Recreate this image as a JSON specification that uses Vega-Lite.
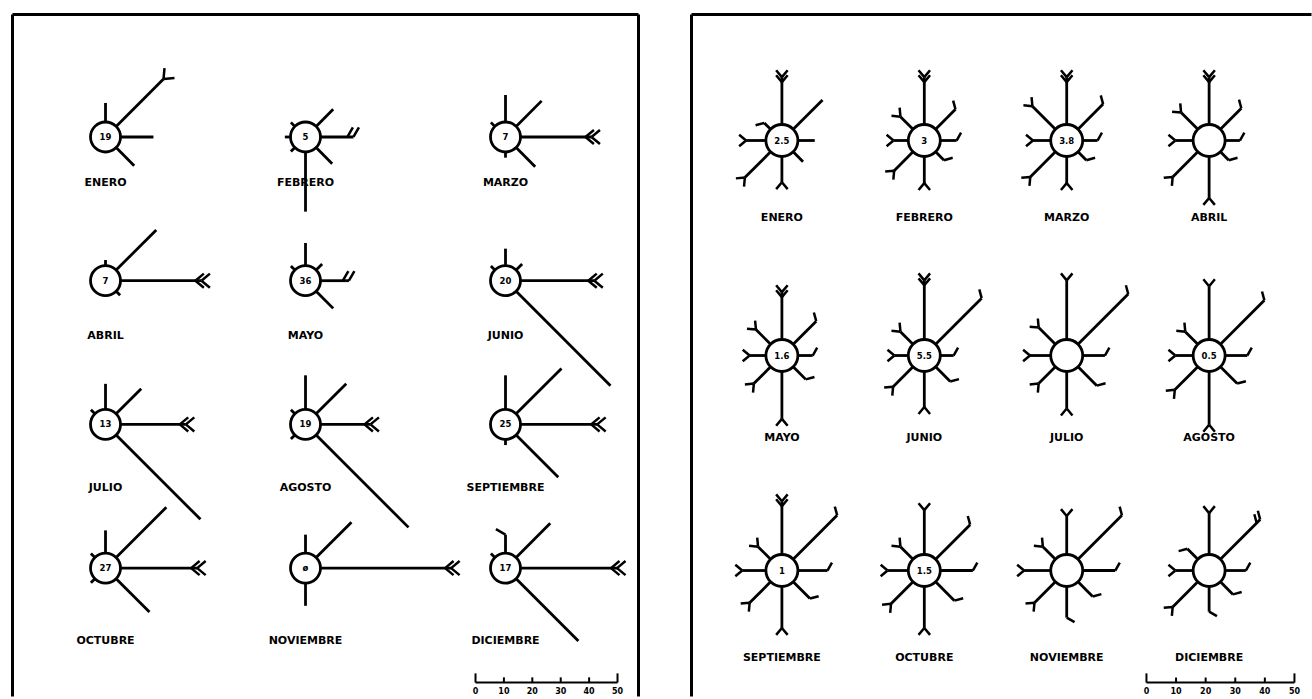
{
  "$schema": "https://vega.github.io/schema/vega-lite/v6.json",
  "padding": {"left": 10.5, "top": 12.5, "right": 0, "bottom": 0},
  "background": "white",
  "config": {"view": {"stroke": null}, "text": {"font": "DejaVu Sans", "fontWeight": "bold", "color": "black"}},
  "spacing": 49,
  "datasets": {
    "roses": [
      {"panel": "A", "m": 1, "month": "ENERO", "calm": "19"},
      {"panel": "A", "m": 2, "month": "FEBRERO", "calm": "5"},
      {"panel": "A", "m": 3, "month": "MARZO", "calm": "7"},
      {"panel": "A", "m": 4, "month": "ABRIL", "calm": "7"},
      {"panel": "A", "m": 5, "month": "MAYO", "calm": "36"},
      {"panel": "A", "m": 6, "month": "JUNIO", "calm": "20"},
      {"panel": "A", "m": 7, "month": "JULIO", "calm": "13"},
      {"panel": "A", "m": 8, "month": "AGOSTO", "calm": "19"},
      {"panel": "A", "m": 9, "month": "SEPTIEMBRE", "calm": "25"},
      {"panel": "A", "m": 10, "month": "OCTUBRE", "calm": "27"},
      {"panel": "A", "m": 11, "month": "NOVIEMBRE", "calm": "ø"},
      {"panel": "A", "m": 12, "month": "DICIEMBRE", "calm": "17"},
      {"panel": "B", "m": 1, "month": "ENERO", "calm": "2.5"},
      {"panel": "B", "m": 2, "month": "FEBRERO", "calm": "3"},
      {"panel": "B", "m": 3, "month": "MARZO", "calm": "3.8"},
      {"panel": "B", "m": 4, "month": "ABRIL", "calm": ""},
      {"panel": "B", "m": 5, "month": "MAYO", "calm": "1.6"},
      {"panel": "B", "m": 6, "month": "JUNIO", "calm": "5.5"},
      {"panel": "B", "m": 7, "month": "JULIO", "calm": ""},
      {"panel": "B", "m": 8, "month": "AGOSTO", "calm": "0.5"},
      {"panel": "B", "m": 9, "month": "SEPTIEMBRE", "calm": "1"},
      {"panel": "B", "m": 10, "month": "OCTUBRE", "calm": "1.5"},
      {"panel": "B", "m": 11, "month": "NOVIEMBRE", "calm": ""},
      {"panel": "B", "m": 12, "month": "DICIEMBRE", "calm": ""}
    ],
    "rays": [
      {"panel": "A", "m": 1, "dir": 0, "pct": 6.7, "barb": ""},
      {"panel": "A", "m": 1, "dir": 45, "pct": 23.6, "barb": "F"},
      {"panel": "A", "m": 1, "dir": 90, "pct": 11.6, "barb": ""},
      {"panel": "A", "m": 1, "dir": 135, "pct": 9, "barb": ""},
      {"panel": "A", "m": 2, "dir": 45, "pct": 8.5, "barb": ""},
      {"panel": "A", "m": 2, "dir": 90, "pct": 11.6, "barb": "LL"},
      {"panel": "A", "m": 2, "dir": 135, "pct": 8, "barb": ""},
      {"panel": "A", "m": 2, "dir": 180, "pct": 21, "barb": ""},
      {"panel": "A", "m": 2, "dir": 225, "pct": 2, "barb": ""},
      {"panel": "A", "m": 2, "dir": 270, "pct": 2, "barb": ""},
      {"panel": "A", "m": 2, "dir": 315, "pct": 2, "barb": ""},
      {"panel": "A", "m": 3, "dir": 0, "pct": 9.5, "barb": ""},
      {"panel": "A", "m": 3, "dir": 45, "pct": 12.7, "barb": ""},
      {"panel": "A", "m": 3, "dir": 90, "pct": 25, "barb": "FF"},
      {"panel": "A", "m": 3, "dir": 135, "pct": 9.5, "barb": ""},
      {"panel": "A", "m": 3, "dir": 180, "pct": 2, "barb": ""},
      {"panel": "A", "m": 3, "dir": 315, "pct": 2, "barb": ""},
      {"panel": "A", "m": 4, "dir": 0, "pct": 2, "barb": ""},
      {"panel": "A", "m": 4, "dir": 45, "pct": 20, "barb": ""},
      {"panel": "A", "m": 4, "dir": 90, "pct": 28.5, "barb": "FF"},
      {"panel": "A", "m": 4, "dir": 135, "pct": 2, "barb": ""},
      {"panel": "A", "m": 5, "dir": 0, "pct": 8, "barb": ""},
      {"panel": "A", "m": 5, "dir": 45, "pct": 3, "barb": ""},
      {"panel": "A", "m": 5, "dir": 90, "pct": 10, "barb": "LL"},
      {"panel": "A", "m": 5, "dir": 135, "pct": 8.5, "barb": ""},
      {"panel": "A", "m": 5, "dir": 315, "pct": 2, "barb": ""},
      {"panel": "A", "m": 6, "dir": 0, "pct": 6, "barb": ""},
      {"panel": "A", "m": 6, "dir": 45, "pct": 3, "barb": ""},
      {"panel": "A", "m": 6, "dir": 90, "pct": 26, "barb": "FF"},
      {"panel": "A", "m": 6, "dir": 135, "pct": 47, "barb": ""},
      {"panel": "A", "m": 6, "dir": 315, "pct": 2, "barb": ""},
      {"panel": "A", "m": 7, "dir": 0, "pct": 9, "barb": ""},
      {"panel": "A", "m": 7, "dir": 45, "pct": 12.5, "barb": ""},
      {"panel": "A", "m": 7, "dir": 90, "pct": 23, "barb": "FF"},
      {"panel": "A", "m": 7, "dir": 135, "pct": 42, "barb": ""},
      {"panel": "A", "m": 7, "dir": 315, "pct": 2, "barb": ""},
      {"panel": "A", "m": 8, "dir": 0, "pct": 12, "barb": ""},
      {"panel": "A", "m": 8, "dir": 45, "pct": 15, "barb": ""},
      {"panel": "A", "m": 8, "dir": 90, "pct": 17.6, "barb": "FF"},
      {"panel": "A", "m": 8, "dir": 135, "pct": 46, "barb": ""},
      {"panel": "A", "m": 8, "dir": 225, "pct": 2, "barb": ""},
      {"panel": "A", "m": 8, "dir": 315, "pct": 2, "barb": ""},
      {"panel": "A", "m": 9, "dir": 0, "pct": 12, "barb": ""},
      {"panel": "A", "m": 9, "dir": 45, "pct": 22.6, "barb": ""},
      {"panel": "A", "m": 9, "dir": 90, "pct": 27, "barb": "FF"},
      {"panel": "A", "m": 9, "dir": 135, "pct": 21, "barb": ""},
      {"panel": "A", "m": 9, "dir": 180, "pct": 2, "barb": ""},
      {"panel": "A", "m": 10, "dir": 0, "pct": 8, "barb": ""},
      {"panel": "A", "m": 10, "dir": 45, "pct": 25, "barb": ""},
      {"panel": "A", "m": 10, "dir": 90, "pct": 27, "barb": "FF"},
      {"panel": "A", "m": 10, "dir": 135, "pct": 16.6, "barb": ""},
      {"panel": "A", "m": 10, "dir": 225, "pct": 2, "barb": ""},
      {"panel": "A", "m": 10, "dir": 315, "pct": 2, "barb": ""},
      {"panel": "A", "m": 11, "dir": 0, "pct": 6.5, "barb": ""},
      {"panel": "A", "m": 11, "dir": 45, "pct": 17.6, "barb": ""},
      {"panel": "A", "m": 11, "dir": 90, "pct": 46, "barb": "FF"},
      {"panel": "A", "m": 11, "dir": 180, "pct": 8, "barb": ""},
      {"panel": "A", "m": 12, "dir": 0, "pct": 6.5, "barb": "L"},
      {"panel": "A", "m": 12, "dir": 45, "pct": 17, "barb": ""},
      {"panel": "A", "m": 12, "dir": 90, "pct": 34, "barb": "FF"},
      {"panel": "A", "m": 12, "dir": 135, "pct": 31, "barb": ""},
      {"panel": "A", "m": 12, "dir": 315, "pct": 2, "barb": ""},
      {"panel": "B", "m": 1, "dir": 0, "pct": 16, "barb": "FF"},
      {"panel": "B", "m": 1, "dir": 45, "pct": 14, "barb": ""},
      {"panel": "B", "m": 1, "dir": 90, "pct": 5.7, "barb": ""},
      {"panel": "B", "m": 1, "dir": 135, "pct": 4.7, "barb": ""},
      {"panel": "B", "m": 1, "dir": 180, "pct": 8.7, "barb": "F"},
      {"panel": "B", "m": 1, "dir": 225, "pct": 12.3, "barb": "F"},
      {"panel": "B", "m": 1, "dir": 270, "pct": 6.7, "barb": "F"},
      {"panel": "B", "m": 1, "dir": 315, "pct": 3, "barb": "L"},
      {"panel": "B", "m": 2, "dir": 0, "pct": 16, "barb": "FF"},
      {"panel": "B", "m": 2, "dir": 45, "pct": 9.5, "barb": "L"},
      {"panel": "B", "m": 2, "dir": 90, "pct": 5.5, "barb": "L"},
      {"panel": "B", "m": 2, "dir": 135, "pct": 4, "barb": "L"},
      {"panel": "B", "m": 2, "dir": 180, "pct": 9, "barb": "F"},
      {"panel": "B", "m": 2, "dir": 225, "pct": 9, "barb": "F"},
      {"panel": "B", "m": 2, "dir": 270, "pct": 5, "barb": "F"},
      {"panel": "B", "m": 2, "dir": 315, "pct": 6, "barb": "F"},
      {"panel": "B", "m": 3, "dir": 0, "pct": 16, "barb": "FF"},
      {"panel": "B", "m": 3, "dir": 45, "pct": 12, "barb": "L"},
      {"panel": "B", "m": 3, "dir": 90, "pct": 5, "barb": "L"},
      {"panel": "B", "m": 3, "dir": 135, "pct": 4, "barb": "L"},
      {"panel": "B", "m": 3, "dir": 180, "pct": 9, "barb": "F"},
      {"panel": "B", "m": 3, "dir": 225, "pct": 12, "barb": "F"},
      {"panel": "B", "m": 3, "dir": 270, "pct": 6, "barb": "F"},
      {"panel": "B", "m": 3, "dir": 315, "pct": 11, "barb": "F"},
      {"panel": "B", "m": 4, "dir": 0, "pct": 16, "barb": "FF"},
      {"panel": "B", "m": 4, "dir": 45, "pct": 10, "barb": "L"},
      {"panel": "B", "m": 4, "dir": 90, "pct": 5, "barb": "L"},
      {"panel": "B", "m": 4, "dir": 135, "pct": 4, "barb": "L"},
      {"panel": "B", "m": 4, "dir": 180, "pct": 14, "barb": "F"},
      {"panel": "B", "m": 4, "dir": 225, "pct": 12, "barb": "F"},
      {"panel": "B", "m": 4, "dir": 270, "pct": 6, "barb": "F"},
      {"panel": "B", "m": 4, "dir": 315, "pct": 8, "barb": "F"},
      {"panel": "B", "m": 5, "dir": 0, "pct": 16, "barb": "FF"},
      {"panel": "B", "m": 5, "dir": 45, "pct": 11, "barb": "L"},
      {"panel": "B", "m": 5, "dir": 90, "pct": 5, "barb": "L"},
      {"panel": "B", "m": 5, "dir": 135, "pct": 6, "barb": "L"},
      {"panel": "B", "m": 5, "dir": 180, "pct": 16, "barb": "F"},
      {"panel": "B", "m": 5, "dir": 225, "pct": 8, "barb": "F"},
      {"panel": "B", "m": 5, "dir": 270, "pct": 5.5, "barb": "F"},
      {"panel": "B", "m": 5, "dir": 315, "pct": 7, "barb": "F"},
      {"panel": "B", "m": 6, "dir": 0, "pct": 20, "barb": "FF"},
      {"panel": "B", "m": 6, "dir": 45, "pct": 22, "barb": "L"},
      {"panel": "B", "m": 6, "dir": 90, "pct": 4.5, "barb": "L"},
      {"panel": "B", "m": 6, "dir": 135, "pct": 7, "barb": "L"},
      {"panel": "B", "m": 6, "dir": 180, "pct": 12, "barb": "F"},
      {"panel": "B", "m": 6, "dir": 225, "pct": 9.5, "barb": "F"},
      {"panel": "B", "m": 6, "dir": 270, "pct": 4.7, "barb": "F"},
      {"panel": "B", "m": 6, "dir": 315, "pct": 6, "barb": "F"},
      {"panel": "B", "m": 7, "dir": 0, "pct": 20, "barb": "F"},
      {"panel": "B", "m": 7, "dir": 45, "pct": 24, "barb": "L"},
      {"panel": "B", "m": 7, "dir": 90, "pct": 7.5, "barb": "L"},
      {"panel": "B", "m": 7, "dir": 135, "pct": 9, "barb": "L"},
      {"panel": "B", "m": 7, "dir": 180, "pct": 12.5, "barb": "F"},
      {"panel": "B", "m": 7, "dir": 225, "pct": 8, "barb": "F"},
      {"panel": "B", "m": 7, "dir": 270, "pct": 7, "barb": "F"},
      {"panel": "B", "m": 7, "dir": 315, "pct": 8, "barb": "F"},
      {"panel": "B", "m": 8, "dir": 0, "pct": 18, "barb": "F"},
      {"panel": "B", "m": 8, "dir": 45, "pct": 21, "barb": "L"},
      {"panel": "B", "m": 8, "dir": 90, "pct": 7.5, "barb": "L"},
      {"panel": "B", "m": 8, "dir": 135, "pct": 8, "barb": "L"},
      {"panel": "B", "m": 8, "dir": 180, "pct": 18, "barb": "F"},
      {"panel": "B", "m": 8, "dir": 225, "pct": 11, "barb": "F"},
      {"panel": "B", "m": 8, "dir": 270, "pct": 6, "barb": "F"},
      {"panel": "B", "m": 8, "dir": 315, "pct": 6, "barb": "F"},
      {"panel": "B", "m": 9, "dir": 0, "pct": 18, "barb": "FF"},
      {"panel": "B", "m": 9, "dir": 45, "pct": 21, "barb": "L"},
      {"panel": "B", "m": 9, "dir": 90, "pct": 10, "barb": "L"},
      {"panel": "B", "m": 9, "dir": 135, "pct": 8, "barb": "L"},
      {"panel": "B", "m": 9, "dir": 180, "pct": 14, "barb": "F"},
      {"panel": "B", "m": 9, "dir": 225, "pct": 10, "barb": "F"},
      {"panel": "B", "m": 9, "dir": 270, "pct": 8, "barb": "F"},
      {"panel": "B", "m": 9, "dir": 315, "pct": 6, "barb": "F"},
      {"panel": "B", "m": 10, "dir": 0, "pct": 15, "barb": "F"},
      {"panel": "B", "m": 10, "dir": 45, "pct": 16.5, "barb": "L"},
      {"panel": "B", "m": 10, "dir": 90, "pct": 11, "barb": "L"},
      {"panel": "B", "m": 10, "dir": 135, "pct": 9, "barb": "L"},
      {"panel": "B", "m": 10, "dir": 180, "pct": 14, "barb": "F"},
      {"panel": "B", "m": 10, "dir": 225, "pct": 10.5, "barb": "F"},
      {"panel": "B", "m": 10, "dir": 270, "pct": 7, "barb": "F"},
      {"panel": "B", "m": 10, "dir": 315, "pct": 6, "barb": "F"},
      {"panel": "B", "m": 11, "dir": 0, "pct": 13, "barb": "F"},
      {"panel": "B", "m": 11, "dir": 45, "pct": 21, "barb": "L"},
      {"panel": "B", "m": 11, "dir": 90, "pct": 11, "barb": "L"},
      {"panel": "B", "m": 11, "dir": 135, "pct": 7, "barb": "L"},
      {"panel": "B", "m": 11, "dir": 180, "pct": 10.5, "barb": "L"},
      {"panel": "B", "m": 11, "dir": 225, "pct": 10, "barb": "F"},
      {"panel": "B", "m": 11, "dir": 270, "pct": 9, "barb": "F"},
      {"panel": "B", "m": 11, "dir": 315, "pct": 6, "barb": "F"},
      {"panel": "B", "m": 12, "dir": 0, "pct": 14, "barb": "F"},
      {"panel": "B", "m": 12, "dir": 45, "pct": 19, "barb": "LL"},
      {"panel": "B", "m": 12, "dir": 90, "pct": 7, "barb": "L"},
      {"panel": "B", "m": 12, "dir": 135, "pct": 6, "barb": "L"},
      {"panel": "B", "m": 12, "dir": 180, "pct": 8.5, "barb": "L"},
      {"panel": "B", "m": 12, "dir": 225, "pct": 12, "barb": "F"},
      {"panel": "B", "m": 12, "dir": 270, "pct": 6, "barb": "F"},
      {"panel": "B", "m": 12, "dir": 315, "pct": 5, "barb": "L"}
    ],
    "ticks": [{"v": 0}, {"v": 10}, {"v": 20}, {"v": 30}, {"v": 40}, {"v": 50}],
    "frame": [{"edge": "frame"}]
  },
  "hconcat": [
    {
      "width": 626,
      "height": 682,
      "layer": [
        {
          "data": {"name": "frame"},
          "mark": {"type": "rule", "strokeWidth": 3, "color": "black"},
          "encoding": {"x": {"datum": 0, "type": "quantitative", "scale": {"domain": [0, 220.42], "nice": false, "zero": false}, "axis": null}}
        },
        {
          "data": {"name": "frame"},
          "mark": {"type": "rule", "strokeWidth": 3, "color": "black"},
          "encoding": {"x": {"datum": 220.42, "type": "quantitative", "scale": {"domain": [0, 220.42], "nice": false, "zero": false}, "axis": null}}
        },
        {
          "data": {"name": "frame"},
          "mark": {"type": "rule", "strokeWidth": 3, "color": "black"},
          "encoding": {"y": {"datum": 0, "type": "quantitative", "scale": {"domain": [0, 240.14], "nice": false, "zero": false, "reverse": true}, "axis": null}}
        },
        {
          "data": {"name": "rays"},
          "transform": [
            {"filter": "datum.panel === 'A'"},
            {"calculate": "32.75 + 70.42 * ((datum.m - 1) % 3)", "as": "cx"},
            {"calculate": "43.13 + 50.6 * floor((datum.m - 1) / 3)", "as": "cy"},
            {"calculate": "datum.dir * PI / 180", "as": "a"},
            {"calculate": "datum.cx + 5.28 * sin(datum.a)", "as": "x1"},
            {"calculate": "datum.cy - 5.28 * cos(datum.a)", "as": "y1"},
            {"calculate": "datum.cx + (5.28 + datum.pct) * sin(datum.a)", "as": "x2"},
            {"calculate": "datum.cy - (5.28 + datum.pct) * cos(datum.a)", "as": "y2"}
          ],
          "mark": {"type": "rule", "strokeWidth": 2.8, "color": "black"},
          "encoding": {
            "x": {"field": "x1", "type": "quantitative", "scale": {"domain": [0, 220.42], "nice": false, "zero": false}, "axis": null},
            "y": {"field": "y1", "type": "quantitative", "scale": {"domain": [0, 240.14], "nice": false, "zero": false, "reverse": true}, "axis": null},
            "x2": {"field": "x2"},
            "y2": {"field": "y2"}
          }
        },
        {
          "data": {"name": "rays"},
          "transform": [
            {"filter": "datum.panel === 'A' && datum.barb !== ''"},
            {"calculate": "32.75 + 70.42 * ((datum.m - 1) % 3)", "as": "cx"},
            {"calculate": "43.13 + 50.6 * floor((datum.m - 1) / 3)", "as": "cy"},
            {"calculate": "datum.dir * PI / 180", "as": "a"},
            {"calculate": "datum.cx + (5.28 + datum.pct) * sin(datum.a)", "as": "x2"},
            {"calculate": "datum.cy - (5.28 + datum.pct) * cos(datum.a)", "as": "y2"}
          ],
          "mark": {"type": "point", "filled": false, "stroke": "black", "strokeWidth": 2.5, "opacity": 1, "size": 484},
          "encoding": {
            "x": {"field": "x2", "type": "quantitative", "scale": {"domain": [0, 220.42], "nice": false, "zero": false}, "axis": null},
            "y": {"field": "y2", "type": "quantitative", "scale": {"domain": [0, 240.14], "nice": false, "zero": false, "reverse": true}, "axis": null},
            "angle": {"field": "dir", "type": "quantitative", "scale": null},
            "shape": {"field": "barb", "type": "nominal", "legend": null, "scale": {"domain": ["F", "FF", "L", "LL"], "range": ["M0,0L-0.64,-0.77M0,0L0.64,-0.77", "M0,0L-0.64,-0.77M0,0L0.64,-0.77M0,0.55L-0.64,-0.22M0,0.55L0.64,-0.22", "M0,0L-0.87,-0.5", "M0,0L-0.87,-0.5M0,0.55L-0.87,0.05"]}}
          }
        },
        {
          "data": {"name": "roses"},
          "transform": [
            {"filter": "datum.panel === 'A'"},
            {"calculate": "32.75 + 70.42 * ((datum.m - 1) % 3)", "as": "cx"},
            {"calculate": "43.13 + 50.6 * floor((datum.m - 1) / 3)", "as": "cy"},
            {"calculate": "59.33 + 53.7 * floor((datum.m - 1) / 3)", "as": "ly"}
          ],
          "layer": [
            {
              "mark": {"type": "point", "shape": "circle", "filled": true, "fill": "white", "stroke": "black", "strokeWidth": 2.8, "opacity": 1, "size": 900},
              "encoding": {
                "x": {"field": "cx", "type": "quantitative", "scale": {"domain": [0, 220.42], "nice": false, "zero": false}, "axis": null},
                "y": {"field": "cy", "type": "quantitative", "scale": {"domain": [0, 240.14], "nice": false, "zero": false, "reverse": true}, "axis": null}
              }
            },
            {
              "mark": {"type": "text", "fontSize": 8.5, "baseline": "middle", "align": "center"},
              "encoding": {
                "x": {"field": "cx", "type": "quantitative"},
                "y": {"field": "cy", "type": "quantitative"},
                "text": {"field": "calm"}
              }
            },
            {
              "mark": {"type": "text", "fontSize": 11, "baseline": "middle", "align": "center"},
              "encoding": {
                "x": {"field": "cx", "type": "quantitative"},
                "y": {"field": "ly", "type": "quantitative"},
                "text": {"field": "month"}
              }
            }
          ]
        },
        {
          "data": {"name": "ticks"},
          "transform": [
            {"calculate": "163.03 + datum.v", "as": "bx"},
            {"calculate": "235.21", "as": "by"},
            {"calculate": "datum.v === 0 || datum.v === 50 ? 232.0 : 233.4", "as": "bt"},
            {"calculate": "238.4", "as": "bl"}
          ],
          "layer": [
            {
              "mark": {"type": "rule", "strokeWidth": 2, "color": "black"},
              "encoding": {
                "x": {"field": "bx", "type": "quantitative"},
                "y": {"field": "by", "type": "quantitative"},
                "y2": {"field": "bt"}
              }
            },
            {
              "transform": [{"aggregate": [{"op": "min", "field": "bx", "as": "b0"}, {"op": "max", "field": "bx", "as": "b1"}, {"op": "min", "field": "by", "as": "by"}]}],
              "mark": {"type": "rule", "strokeWidth": 2, "color": "black"},
              "encoding": {
                "x": {"field": "b0", "type": "quantitative"},
                "x2": {"field": "b1"},
                "y": {"field": "by", "type": "quantitative"}
              }
            },
            {
              "mark": {"type": "text", "fontSize": 8, "baseline": "middle", "align": "center"},
              "encoding": {
                "x": {"field": "bx", "type": "quantitative"},
                "y": {"field": "bl", "type": "quantitative"},
                "text": {"field": "v", "type": "quantitative"}
              }
            }
          ]
        }
      ]
    },
    {
      "width": 620,
      "height": 682,
      "layer": [
        {
          "data": {"name": "frame"},
          "mark": {"type": "rule", "strokeWidth": 3, "color": "black"},
          "encoding": {"x": {"datum": 0, "type": "quantitative", "scale": {"domain": [0, 209.46], "nice": false, "zero": false}, "axis": null}}
        },
        {
          "data": {"name": "frame"},
          "mark": {"type": "rule", "strokeWidth": 3, "color": "black"},
          "encoding": {"y": {"datum": 0, "type": "quantitative", "scale": {"domain": [0, 230.41], "nice": false, "zero": false, "reverse": true}, "axis": null}}
        },
        {
          "data": {"name": "rays"},
          "transform": [
            {"filter": "datum.panel === 'B'"},
            {"calculate": "30.54 + 48.11 * ((datum.m - 1) % 4)", "as": "cx"},
            {"calculate": "42.57 + 72.64 * floor((datum.m - 1) / 4)", "as": "cy"},
            {"calculate": "datum.dir * PI / 180", "as": "a"},
            {"calculate": "datum.cx + 5.4 * sin(datum.a)", "as": "x1"},
            {"calculate": "datum.cy - 5.4 * cos(datum.a)", "as": "y1"},
            {"calculate": "datum.cx + (5.4 + datum.pct) * sin(datum.a)", "as": "x2"},
            {"calculate": "datum.cy - (5.4 + datum.pct) * cos(datum.a)", "as": "y2"}
          ],
          "mark": {"type": "rule", "strokeWidth": 2.8, "color": "black"},
          "encoding": {
            "x": {"field": "x1", "type": "quantitative", "scale": {"domain": [0, 209.46], "nice": false, "zero": false}, "axis": null},
            "y": {"field": "y1", "type": "quantitative", "scale": {"domain": [0, 230.41], "nice": false, "zero": false, "reverse": true}, "axis": null},
            "x2": {"field": "x2"},
            "y2": {"field": "y2"}
          }
        },
        {
          "data": {"name": "rays"},
          "transform": [
            {"filter": "datum.panel === 'B' && datum.barb !== ''"},
            {"calculate": "30.54 + 48.11 * ((datum.m - 1) % 4)", "as": "cx"},
            {"calculate": "42.57 + 72.64 * floor((datum.m - 1) / 4)", "as": "cy"},
            {"calculate": "datum.dir * PI / 180", "as": "a"},
            {"calculate": "datum.cx + (5.4 + datum.pct) * sin(datum.a)", "as": "x2"},
            {"calculate": "datum.cy - (5.4 + datum.pct) * cos(datum.a)", "as": "y2"}
          ],
          "mark": {"type": "point", "filled": false, "stroke": "black", "strokeWidth": 2.5, "opacity": 1, "size": 324},
          "encoding": {
            "x": {"field": "x2", "type": "quantitative", "scale": {"domain": [0, 209.46], "nice": false, "zero": false}, "axis": null},
            "y": {"field": "y2", "type": "quantitative", "scale": {"domain": [0, 230.41], "nice": false, "zero": false, "reverse": true}, "axis": null},
            "angle": {"field": "dir", "type": "quantitative", "scale": null},
            "shape": {"field": "barb", "type": "nominal", "legend": null, "scale": {"domain": ["F", "FF", "L", "LL"], "range": ["M0,0L-0.64,-0.77M0,0L0.64,-0.77", "M0,0L-0.64,-0.77M0,0L0.64,-0.77M0,0.55L-0.64,-0.22M0,0.55L0.64,-0.22", "M0,0L-0.87,-0.5", "M0,0L-0.87,-0.5M0,0.55L-0.87,0.05"]}}
          }
        },
        {
          "data": {"name": "roses"},
          "transform": [
            {"filter": "datum.panel === 'B'"},
            {"calculate": "30.54 + 48.11 * ((datum.m - 1) % 4)", "as": "cx"},
            {"calculate": "42.57 + 72.64 * floor((datum.m - 1) / 4)", "as": "cy"},
            {"calculate": "68.6 + 74.32 * floor((datum.m - 1) / 4)", "as": "ly"}
          ],
          "layer": [
            {
              "mark": {"type": "point", "shape": "circle", "filled": true, "fill": "white", "stroke": "black", "strokeWidth": 2.8, "opacity": 1, "size": 1024},
              "encoding": {
                "x": {"field": "cx", "type": "quantitative", "scale": {"domain": [0, 209.46], "nice": false, "zero": false}, "axis": null},
                "y": {"field": "cy", "type": "quantitative", "scale": {"domain": [0, 230.41], "nice": false, "zero": false, "reverse": true}, "axis": null}
              }
            },
            {
              "mark": {"type": "text", "fontSize": 8.5, "baseline": "middle", "align": "center"},
              "encoding": {
                "x": {"field": "cx", "type": "quantitative"},
                "y": {"field": "cy", "type": "quantitative"},
                "text": {"field": "calm"}
              }
            },
            {
              "mark": {"type": "text", "fontSize": 11, "baseline": "middle", "align": "center"},
              "encoding": {
                "x": {"field": "cx", "type": "quantitative"},
                "y": {"field": "ly", "type": "quantitative"},
                "text": {"field": "month"}
              }
            }
          ]
        },
        {
          "data": {"name": "ticks"},
          "transform": [
            {"calculate": "153.7 + datum.v", "as": "bx"},
            {"calculate": "225.7", "as": "by"},
            {"calculate": "datum.v === 0 || datum.v === 50 ? 222.6 : 224.0", "as": "bt"},
            {"calculate": "228.8", "as": "bl"}
          ],
          "layer": [
            {
              "mark": {"type": "rule", "strokeWidth": 2, "color": "black"},
              "encoding": {
                "x": {"field": "bx", "type": "quantitative"},
                "y": {"field": "by", "type": "quantitative"},
                "y2": {"field": "bt"}
              }
            },
            {
              "transform": [{"aggregate": [{"op": "min", "field": "bx", "as": "b0"}, {"op": "max", "field": "bx", "as": "b1"}, {"op": "min", "field": "by", "as": "by"}]}],
              "mark": {"type": "rule", "strokeWidth": 2, "color": "black"},
              "encoding": {
                "x": {"field": "b0", "type": "quantitative"},
                "x2": {"field": "b1"},
                "y": {"field": "by", "type": "quantitative"}
              }
            },
            {
              "mark": {"type": "text", "fontSize": 8, "baseline": "middle", "align": "center"},
              "encoding": {
                "x": {"field": "bx", "type": "quantitative"},
                "y": {"field": "bl", "type": "quantitative"},
                "text": {"field": "v", "type": "quantitative"}
              }
            }
          ]
        }
      ]
    }
  ]
}
